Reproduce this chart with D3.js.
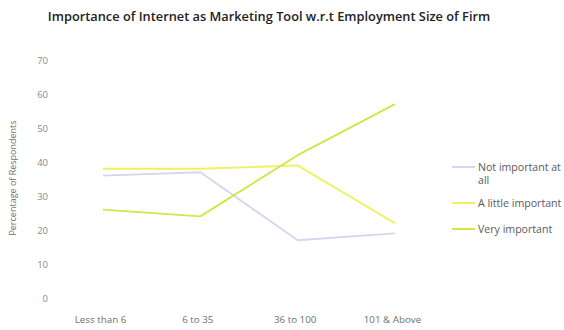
<!DOCTYPE html>
<html>
<head>
<meta charset="utf-8">
<script src="https://cdn.jsdelivr.net/npm/d3@7"></script>
<style>
  html, body { margin: 0; padding: 0; background: #fff; }
  svg { display: block; }
</style>
</head>
<body>
<svg id="chart" width="564" height="330"></svg>
<script>
// Employment size groups and survey responses (% of respondents)
const categories = ["Less than 6", "6 to 35", "36 to 100", "101 & Above"];
const notImportant = [36, 37, 17, 19];
const littleImportant = [38, 38, 39, 22];
const veryImportant = [26, 24, 42, 57];
const yTicks = [0, 10, 20, 30, 40, 50, 60, 70];

const series = [
  { name: ["Not important at", "all"], values: notImportant, color: "#d6d6ee" },
  { name: ["A little important"], values: littleImportant, color: "#eef25e" },
  { name: ["Very important"], values: veryImportant, color: "#d2e647" }
];

const svg = d3.select("#chart");
const font = "'Open Sans', 'Noto Sans', sans-serif";

const x = d3.scalePoint().domain(categories).range([103, 395]);
const y = d3.scaleLinear().domain([0, 70]).range([298, 60]);

// Title
svg.append("text")
  .attr("x", 269).attr("y", 21)
  .attr("text-anchor", "middle")
  .attr("font-family", font)
  .attr("font-weight", 600)
  .attr("font-size", 12.8)
  .attr("fill", "#222")
  .text("Importance of Internet as Marketing Tool w.r.t Employment Size of Firm");

// Y axis (labels only)
const yAxis = d3.axisLeft(y).tickValues(yTicks).tickSize(0).tickPadding(0);
const gy = svg.append("g").attr("transform", "translate(48,0)").call(yAxis);
gy.select(".domain").remove();
gy.selectAll("text")
  .attr("font-family", font).attr("font-size", 9.5).attr("fill", "#8a8a8a");

// X axis (labels only)
const xAxis = d3.axisBottom(x).tickSize(0).tickPadding(0);
const gx = svg.append("g").attr("transform", "translate(-3,316)").call(xAxis);
gx.select(".domain").remove();
gx.selectAll("text")
  .attr("font-family", font).attr("font-size", 9.8).attr("fill", "#707070");

// Y axis title
svg.append("text")
  .attr("transform", "translate(16,178) rotate(-90)")
  .attr("text-anchor", "middle")
  .attr("font-family", font).attr("font-size", 9).attr("fill", "#707070")
  .text("Percentage of Respondents");

// Lines
const line = d3.line()
  .x((d, i) => x(categories[i]))
  .y(d => y(d));

svg.append("g").selectAll("path")
  .data(series)
  .join("path")
  .attr("d", d => line(d.values))
  .attr("fill", "none")
  .attr("stroke", d => d.color)
  .attr("stroke-width", 1.9)
  .attr("stroke-linejoin", "round");

// Legend
const legendY = [167, 203, 229];
const lg = svg.append("g");
series.forEach((s, i) => {
  const g = lg.append("g").attr("transform", `translate(452,${legendY[i]})`);
  g.append("line").attr("x1", 0).attr("x2", 23).attr("y1", 0).attr("y2", 0)
    .attr("stroke", s.color).attr("stroke-width", 2);
  const t = g.append("text")
    .attr("x", 26).attr("y", 3.5)
    .attr("font-family", font).attr("font-size", 10.6).attr("fill", "#5a5a5a");
  s.name.forEach((part, j) => {
    t.append("tspan").attr("x", 26).attr("dy", j === 0 ? 0 : 13).text(part);
  });
});
</script>
</body>
</html>
